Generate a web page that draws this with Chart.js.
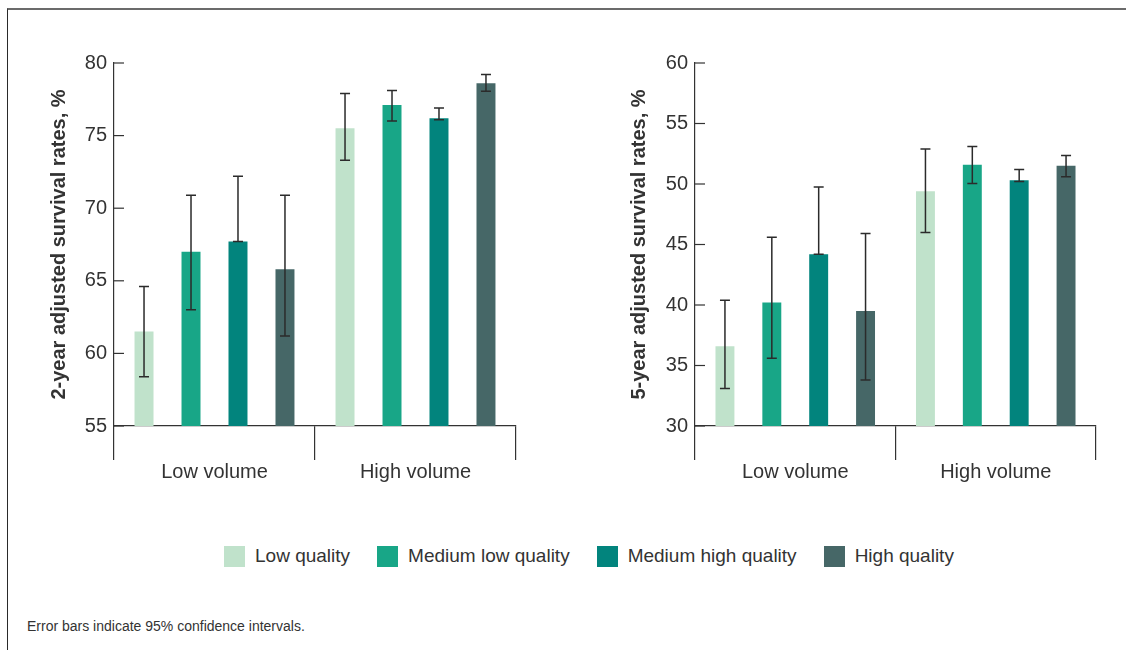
<!DOCTYPE html>
<html>
<head>
<meta charset="utf-8">
<script src="https://cdn.jsdelivr.net/npm/chart.js@4.4.1/dist/chart.umd.min.js"></script>
<style>
  body { margin: 0; background: #fff; font-family: "Liberation Sans", Arial, sans-serif; color: #333; }
  .frame { position: absolute; left: 7px; top: 8px; width: 1200px; height: 700px;
           border-top: 2px solid #6b6b6b; border-left: 1px solid #2a2a2a; }
  .chart-box { position: absolute; top: 0; width: 563px; height: 500px; }
  #legend { position: absolute; left: 224px; top: 545px; display: flex; align-items: center; gap: 27px; font-size: 19px; }
  #legend .item { display: flex; align-items: center; gap: 10px; }
  #legend .swatch { width: 21px; height: 21px; }
  .note { position: absolute; left: 27px; top: 618px; font-size: 14px; line-height: 16px; }
</style>
</head>
<body>
<div class="frame"></div>
<div class="chart-box" style="left:0"><canvas id="twoYear"></canvas></div>
<div class="chart-box" style="left:563px"><canvas id="fiveYear"></canvas></div>
<div id="legend"></div>
<div class="note">Error bars indicate 95% confidence intervals.</div>

<script>
// data
const categories = ['Low volume', 'High volume'];
const seriesNames = ['Low quality', 'Medium low quality', 'Medium high quality', 'High quality'];
const seriesColors = ['#c0e2cb', '#18a687', '#02847d', '#466767'];

// 2-year adjusted survival, %
const lowQuality2yr = [61.5, 75.5];
const medLowQuality2yr = [67.0, 77.1];
const medHighQuality2yr = [67.7, 76.2];
const highQuality2yr = [65.8, 78.6];
// 95% CI [low, high]
const lowQuality2yrCI = [[58.4, 64.6], [73.3, 77.9]];
const medLowQuality2yrCI = [[63.0, 70.9], [76.0, 78.1]];
const medHighQuality2yrCI = [[67.7, 72.2], [76.1, 76.9]];
const highQuality2yrCI = [[61.2, 70.9], [78.05, 79.2]];

// 5-year adjusted survival, %
const lowQuality5yr = [36.6, 49.4];
const medLowQuality5yr = [40.2, 51.6];
const medHighQuality5yr = [44.2, 50.3];
const highQuality5yr = [39.5, 51.5];
const lowQuality5yrCI = [[33.1, 40.4], [46.0, 52.9]];
const medLowQuality5yrCI = [[35.6, 45.6], [50.05, 53.1]];
const medHighQuality5yrCI = [[44.2, 49.75], [50.2, 51.2]];
const highQuality5yrCI = [[33.8, 45.9], [50.6, 52.35]];

Chart.defaults.font.family = '"Liberation Sans", Arial, sans-serif';
Chart.defaults.color = '#333';

// draws the confidence interval whiskers on top of the bars
const errorBars = {
    id: 'errorBars',
    afterDatasetsDraw(chart) {
        const ctx = chart.ctx;
        const y = chart.scales.y;
        ctx.save();
        ctx.strokeStyle = '#2b2b2b';
        ctx.lineWidth = 1.5;
        chart.data.datasets.forEach((ds, i) => {
            chart.getDatasetMeta(i).data.forEach((bar, j) => {
                const ci = ds.ci[j];
                const top = y.getPixelForValue(ci[1]);
                const bottom = y.getPixelForValue(ci[0]);
                ctx.beginPath();
                ctx.moveTo(bar.x, top);
                ctx.lineTo(bar.x, bottom);
                ctx.moveTo(bar.x - 5, top);
                ctx.lineTo(bar.x + 5, top);
                ctx.moveTo(bar.x - 5, bottom);
                ctx.lineTo(bar.x + 5, bottom);
                ctx.stroke();
            });
        });
        ctx.restore();
    }
};

// small tick marks pointing into the plot from the y axis
const innerTicks = {
    id: 'innerTicks',
    afterDraw(chart) {
        const ctx = chart.ctx;
        const y = chart.scales.y;
        const left = chart.chartArea.left;
        ctx.save();
        ctx.strokeStyle = '#333';
        ctx.lineWidth = 1.2;
        y.ticks.forEach((t, i) => {
            const py = y.getPixelForTick(i);
            ctx.beginPath();
            ctx.moveTo(left, py);
            ctx.lineTo(left + 10, py);
            ctx.stroke();
        });
        ctx.restore();
    }
};

function makeChart(id, title, values, cis, yMin, yMax, pad, axisWidth) {
    const datasets = seriesNames.map((name, i) => ({
        label: name,
        data: values[i],
        ci: cis[i],
        backgroundColor: seriesColors[i],
        barPercentage: 0.404,
        categoryPercentage: 0.935
    }));
    return new Chart(document.getElementById(id), {
        type: 'bar',
        data: { labels: categories, datasets: datasets },
        options: {
            responsive: true,
            maintainAspectRatio: false,
            animation: false,
            layout: { padding: pad },
            plugins: { legend: { display: false }, tooltip: { enabled: false } },
            scales: {
                x: {
                    grid: { display: true, offset: true, drawOnChartArea: false, tickLength: 34, color: '#333', lineWidth: 1.2 },
                    border: { color: '#333', width: 1.2 },
                    ticks: { font: { size: 20 }, color: '#333', padding: 0 },
                    afterFit: (s) => { s.height = 74; }
                },
                y: {
                    min: yMin,
                    max: yMax,
                    grid: { display: false, drawTicks: false },
                    border: { color: '#333', width: 1.2 },
                    ticks: { stepSize: 5, font: { size: 20 }, color: '#333', padding: 7 },
                    title: { display: true, text: title, font: { size: 20, weight: 'bold' }, color: '#333', padding: 0 },
                    afterFit: (s) => { s.width = axisWidth; }
                }
            }
        },
        plugins: [errorBars, innerTicks]
    });
}

makeChart('twoYear', '2-year adjusted survival rates, %',
    [lowQuality2yr, medLowQuality2yr, medHighQuality2yr, highQuality2yr],
    [lowQuality2yrCI, medLowQuality2yrCI, medHighQuality2yrCI, highQuality2yrCI],
    55, 80, { left: 47, top: 63, right: 47, bottom: 0 }, 67);

makeChart('fiveYear', '5-year adjusted survival rates, %',
    [lowQuality5yr, medLowQuality5yr, medHighQuality5yr, highQuality5yr],
    [lowQuality5yrCI, medLowQuality5yrCI, medHighQuality5yrCI, highQuality5yrCI],
    30, 60, { left: 64, top: 63, right: 30, bottom: 0 }, 68);

// shared legend
const legend = document.getElementById('legend');
seriesNames.forEach((name, i) => {
    const item = document.createElement('div');
    item.className = 'item';
    item.innerHTML = '<span class="swatch" style="background:' + seriesColors[i] + '"></span><span>' + name + '</span>';
    legend.appendChild(item);
});
</script>
</body>
</html>
